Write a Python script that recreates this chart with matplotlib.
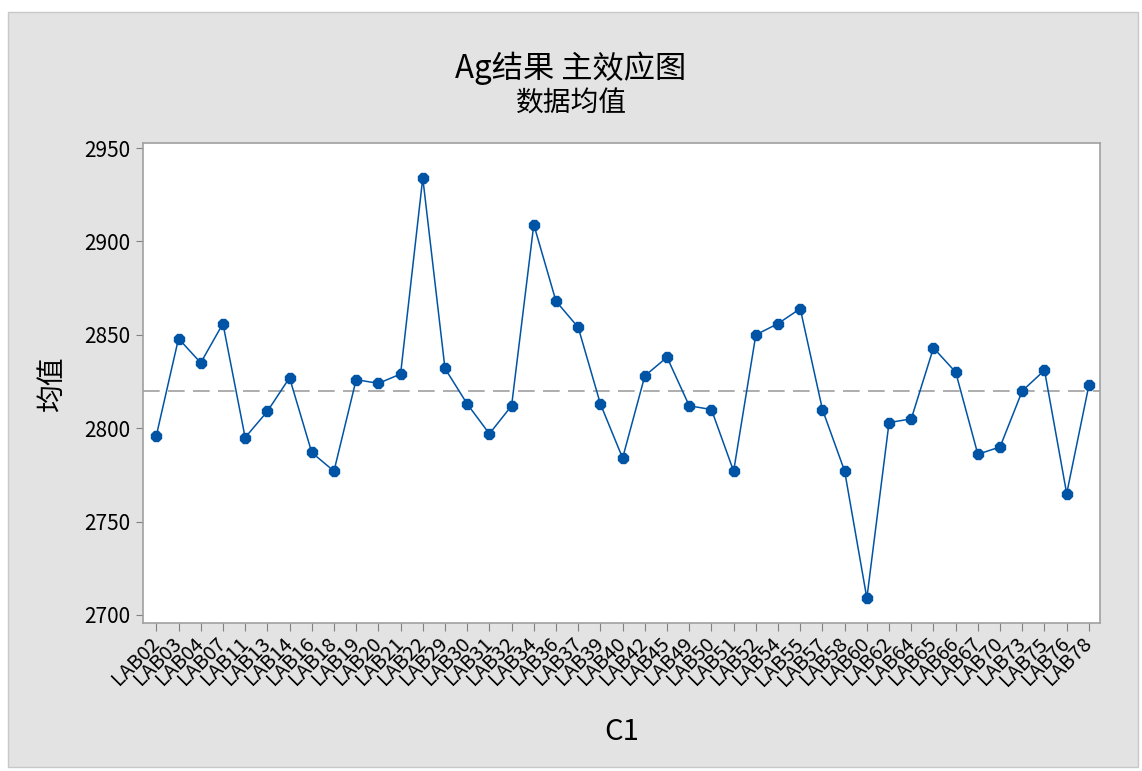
import matplotlib
matplotlib.use("Agg")
import matplotlib.pyplot as plt
from matplotlib.patches import Rectangle
import numpy as np

plt.rcParams['font.family'] = ['Noto Sans CJK SC', 'DejaVu Sans']

labels = ["LAB02", "LAB03", "LAB04", "LAB07", "LAB11", "LAB13", "LAB14", "LAB16", "LAB18", "LAB19",
          "LAB20", "LAB21", "LAB22", "LAB29", "LAB30", "LAB31", "LAB32", "LAB34", "LAB36", "LAB37",
          "LAB39", "LAB40", "LAB42", "LAB45", "LAB49", "LAB50", "LAB51", "LAB52", "LAB54", "LAB55",
          "LAB57", "LAB58", "LAB60", "LAB62", "LAB64", "LAB65", "LAB66", "LAB67", "LAB70", "LAB73",
          "LAB75", "LAB76", "LAB78"]
means = [2796, 2848, 2835, 2856, 2795, 2809, 2827, 2787, 2777, 2826,
         2824, 2829, 2934, 2832, 2813, 2797, 2812, 2909, 2868, 2854,
         2813, 2784, 2828, 2838, 2812, 2810, 2777, 2850, 2856, 2864,
         2810, 2777, 2709, 2803, 2805, 2843, 2830, 2786, 2790, 2820,
         2831, 2765, 2823]
grand_mean = 2820
yticks = [2700, 2750, 2800, 2850, 2900, 2950]

W, H = 1142, 771
fig = plt.figure(figsize=(W / 100, H / 100), dpi=100, facecolor='white')
bg = Rectangle((8 / W, 4 / H), (W - 12) / W, (H - 16) / H, transform=fig.transFigure,
               facecolor='#E3E3E3', edgecolor='#C8C8C8', linewidth=1, zorder=-10)
fig.add_artist(bg)

ax = fig.add_axes([143 / W, 1 - 623 / H, (1100 - 143) / W, (623 - 143) / H], zorder=5)
ax.set_facecolor('white')
x = np.arange(len(labels))
ax.axhline(grand_mean, color='#A0A0A0', linestyle=(0, (10, 5)), linewidth=1.2, zorder=1)
ax.plot(x, means, color='#0054A6', linewidth=1.1, marker='8', markersize=8.5,
        markerfacecolor='#0054A6', markeredgecolor='#0054A6', zorder=3)

ax.set_xlim(-0.6, len(labels) - 0.5)
ax.set_ylim(2695.7, 2952.7)
ax.set_yticks(yticks)
ax.set_xticks(x)
ax.set_xticklabels(labels, rotation=45, ha='right', va='center', rotation_mode='anchor', fontsize=14.5)
ax.tick_params(axis='y', labelsize=15, direction='out', length=5, color='#808080', pad=4)
ax.tick_params(axis='x', direction='out', length=6, color='#808080', pad=7)
for s in ax.spines.values():
    s.set_color('#A0A0A0')
    s.set_linewidth(1.2)

ax.set_ylabel('均值', fontsize=20)
ax.yaxis.set_label_coords((67 - 143) / 957, 0.5)
ax.set_xlabel('C1', fontsize=21)
ax.xaxis.set_label_coords(0.5, (623 - 717) / 480)

fig.text(0.5, 1 - 68 / H, 'Ag结果 主效应图', ha='center', va='center', fontsize=22.5)
fig.text(0.5, 1 - 104 / H, '数据均值', ha='center', va='center', fontsize=20)

fig.savefig('out.png', dpi=100, facecolor='white')
